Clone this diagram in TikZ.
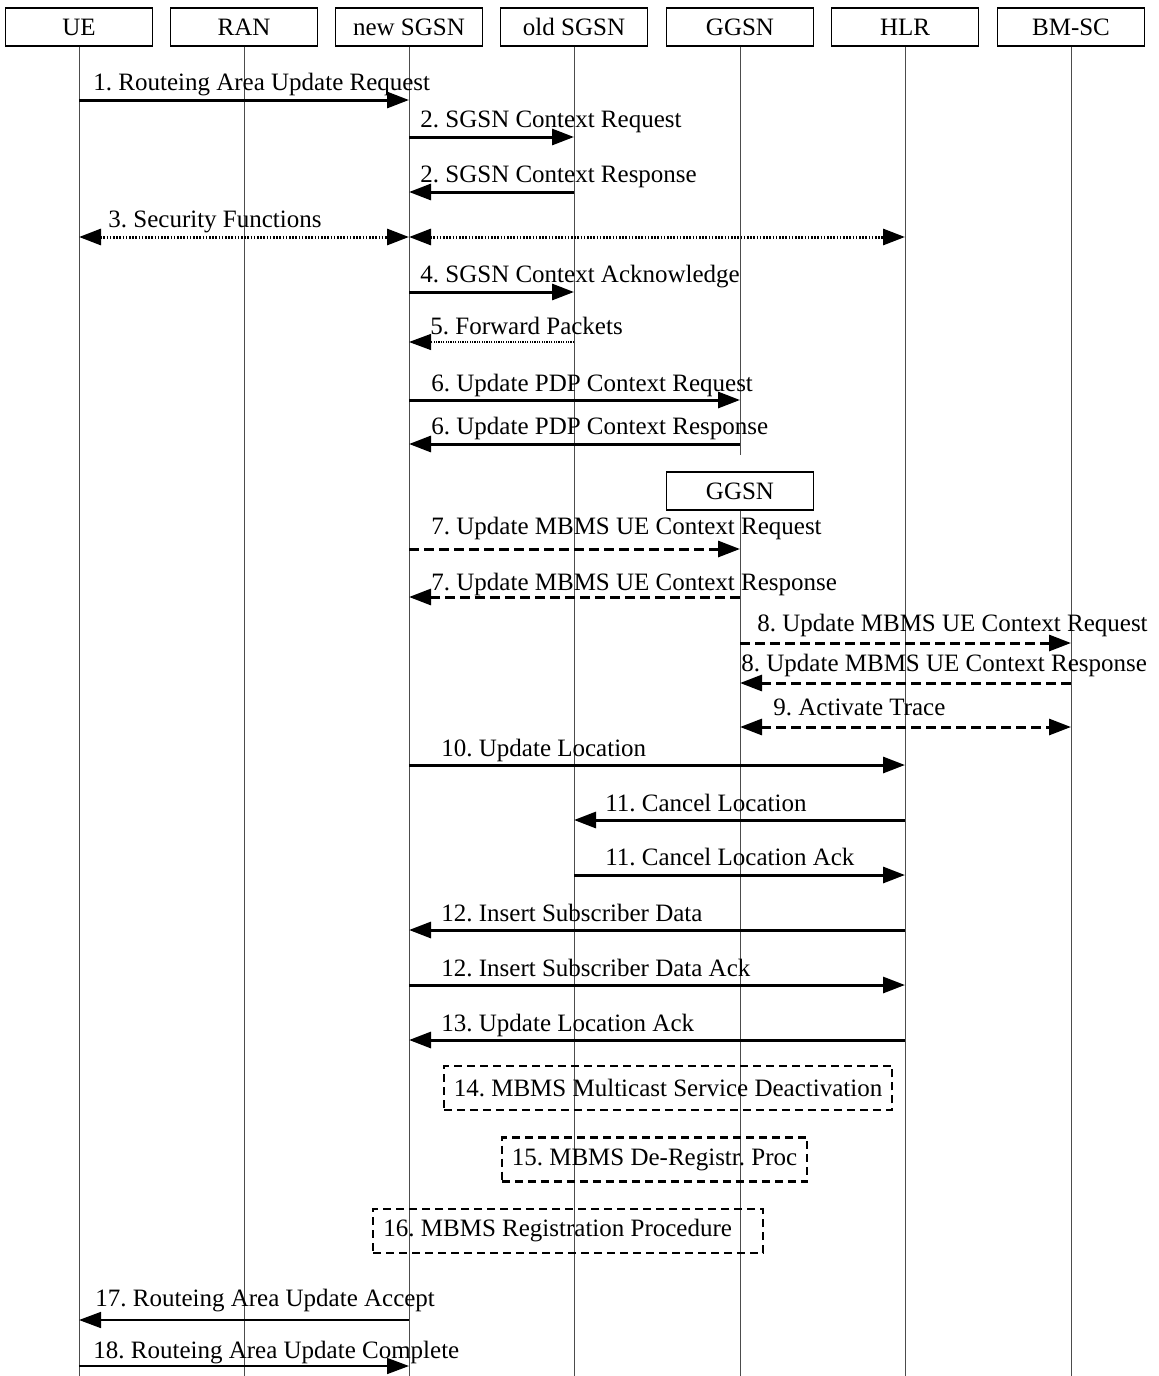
\documentclass[tikz,border=0pt]{standalone}
\usepackage{fontspec}
\setmainfont{Liberation Serif}
\usetikzlibrary{arrows.meta}
\frenchspacing
\begin{document}
\begin{tikzpicture}[x=0.5pt,y=-0.5pt,>={Triangle[length=11pt,width=8pt]}]
  \tikzstyle{every node}=[font=\fontsize{12.5}{15}\selectfont,inner sep=0pt]
  \tikzstyle{entity}=[draw,line width=0.6pt,minimum width=73.5pt,minimum height=19pt]
  \tikzstyle{life}=[line width=0.5pt,black!70]
  \tikzstyle{lbl}=[anchor=base west]
  \tikzstyle{msg}=[line width=1.5pt,->]
  \tikzstyle{thinmsg}=[line width=0.8pt,->]
  \tikzstyle{dashmsg}=[line width=1.5pt,dash pattern=on 5pt off 2.5pt]
  \tikzstyle{dotmsg}=[line width=1.5pt,dash pattern=on 0.8pt off 0.8pt,<->]
  \tikzstyle{proc}=[draw,line width=1.2pt,dash pattern=on 4pt off 2.5pt,minimum height=22pt,inner xsep=5pt]
  \useasboundingbox (0,0) rectangle (1159,1376);
  \foreach \n/\x/\t in {ue/79/UE,ran/244/RAN,nsgsn/409/new SGSN,osgsn/574/old SGSN,
    ggsn/740/GGSN,hlr/905/HLR,bmsc/1071/BM-SC}
    \node[entity] (\n) at (\x,27) {\t};
  \coordinate (bot) at (0,1376);
  \coordinate (cut) at (0,455);
  \foreach \n in {ue,ran,nsgsn,osgsn,hlr,bmsc}
    \draw[life] (\n.south) -- (\n.south |- bot);
  \draw[life] (ggsn.south) -- (ggsn.south |- cut);
  \node[entity] (ggsnb) at (740,491) {GGSN};
  \draw[life] (ggsnb.south) -- (ggsnb.south |- bot);

  \draw[msg] (ue |- 0,100) -- (nsgsn |- 0,100);
  \node[lbl] (l1) at (93,90) {1. Routeing Area Update Request};
  \draw[msg] (nsgsn |- 0,137) -- (osgsn |- 0,137);
  \node[lbl] (l2a) at (420,127) {2. SGSN Context Request};
  \draw[msg] (osgsn |- 0,192) -- (nsgsn |- 0,192);
  \node[lbl] (l2b) at (420,182) {2. SGSN Context Response};
  \draw[dotmsg] (ue |- 0,237) -- (nsgsn |- 0,237);
  \draw[dotmsg] (nsgsn |- 0,237) -- (hlr |- 0,237);
  \node[lbl] (l3) at (108,227) {3. Security Functions};
  \draw[msg] (nsgsn |- 0,292) -- (osgsn |- 0,292);
  \node[lbl] (l4) at (420,282) {4. SGSN Context Acknowledge};
  \draw[line width=0.6pt,dash pattern=on 0.6pt off 0.6pt,->] (osgsn |- 0,342) -- (nsgsn |- 0,342);
  \node[lbl] (l5) at (430,334) {5. Forward Packets};
  \draw[msg] (nsgsn |- 0,400) -- (ggsn |- 0,400);
  \node[lbl] (l6a) at (431,391) {6. Update PDP Context Request};
  \draw[msg] (ggsn |- 0,444) -- (nsgsn |- 0,444);
  \node[lbl] (l6b) at (431,434) {6. Update PDP Context Response};
  \draw[dashmsg,->] (nsgsn |- 0,549) -- (ggsnb |- 0,549);
  \node[lbl] (l7a) at (431,534) {7. Update MBMS UE Context Request};
  \draw[dashmsg,->] (ggsnb |- 0,597) -- (nsgsn |- 0,597);
  \node[lbl] (l7b) at (431,590) {7. Update MBMS UE Context Response};
  \draw[dashmsg,->] (ggsnb |- 0,643) -- (bmsc |- 0,643);
  \node[lbl] (l8a) at (757,631) {8. Update MBMS UE Context Request};
  \draw[dashmsg,->] (bmsc |- 0,683) -- (ggsnb |- 0,683);
  \node[lbl] (l8b) at (741,671) {8. Update MBMS UE Context Response};
  \draw[dashmsg,<->] (ggsnb |- 0,727) -- (bmsc |- 0,727);
  \node[lbl] (l9) at (773,715) {9. Activate Trace};
  \draw[msg] (nsgsn |- 0,765) -- (hlr |- 0,765);
  \node[lbl] (l10) at (441,756) {10. Update Location};
  \draw[msg] (hlr |- 0,820) -- (osgsn |- 0,820);
  \node[lbl] (l11a) at (605,811) {11. Cancel Location};
  \draw[msg] (osgsn |- 0,875) -- (hlr |- 0,875);
  \node[lbl] (l11b) at (605,865) {11. Cancel Location Ack};
  \draw[msg] (hlr |- 0,930) -- (nsgsn |- 0,930);
  \node[lbl] (l12a) at (441,921) {12. Insert Subscriber Data};
  \draw[msg] (nsgsn |- 0,985) -- (hlr |- 0,985);
  \node[lbl] (l12b) at (441,976) {12. Insert Subscriber Data Ack};
  \draw[msg] (hlr |- 0,1040) -- (nsgsn |- 0,1040);
  \node[lbl] (l13) at (441,1031) {13. Update Location Ack};

  \node[proc,minimum width=223.5pt] (p14) at (668,1088) {14. MBMS Multicast Service Deactivation};
  \node[proc,minimum width=151.5pt] (p15) at (654.5,1159.5) {15. MBMS De-Registr. Proc};
  \node[proc,minimum width=195pt] (p16) at (568,1231) {};
  \node[anchor=west] (t16) at (383,1231) {16. MBMS Registration Procedure};

  \draw[thinmsg] (nsgsn |- 0,1320) -- (ue |- 0,1320);
  \node[lbl] (l17) at (95,1306) {17. Routeing Area Update Accept};
  \draw[thinmsg] (ue |- 0,1366) -- (nsgsn |- 0,1366);
  \node[lbl] (l18) at (93,1358) {18. Routeing Area Update Complete};
\end{tikzpicture}
\end{document}
